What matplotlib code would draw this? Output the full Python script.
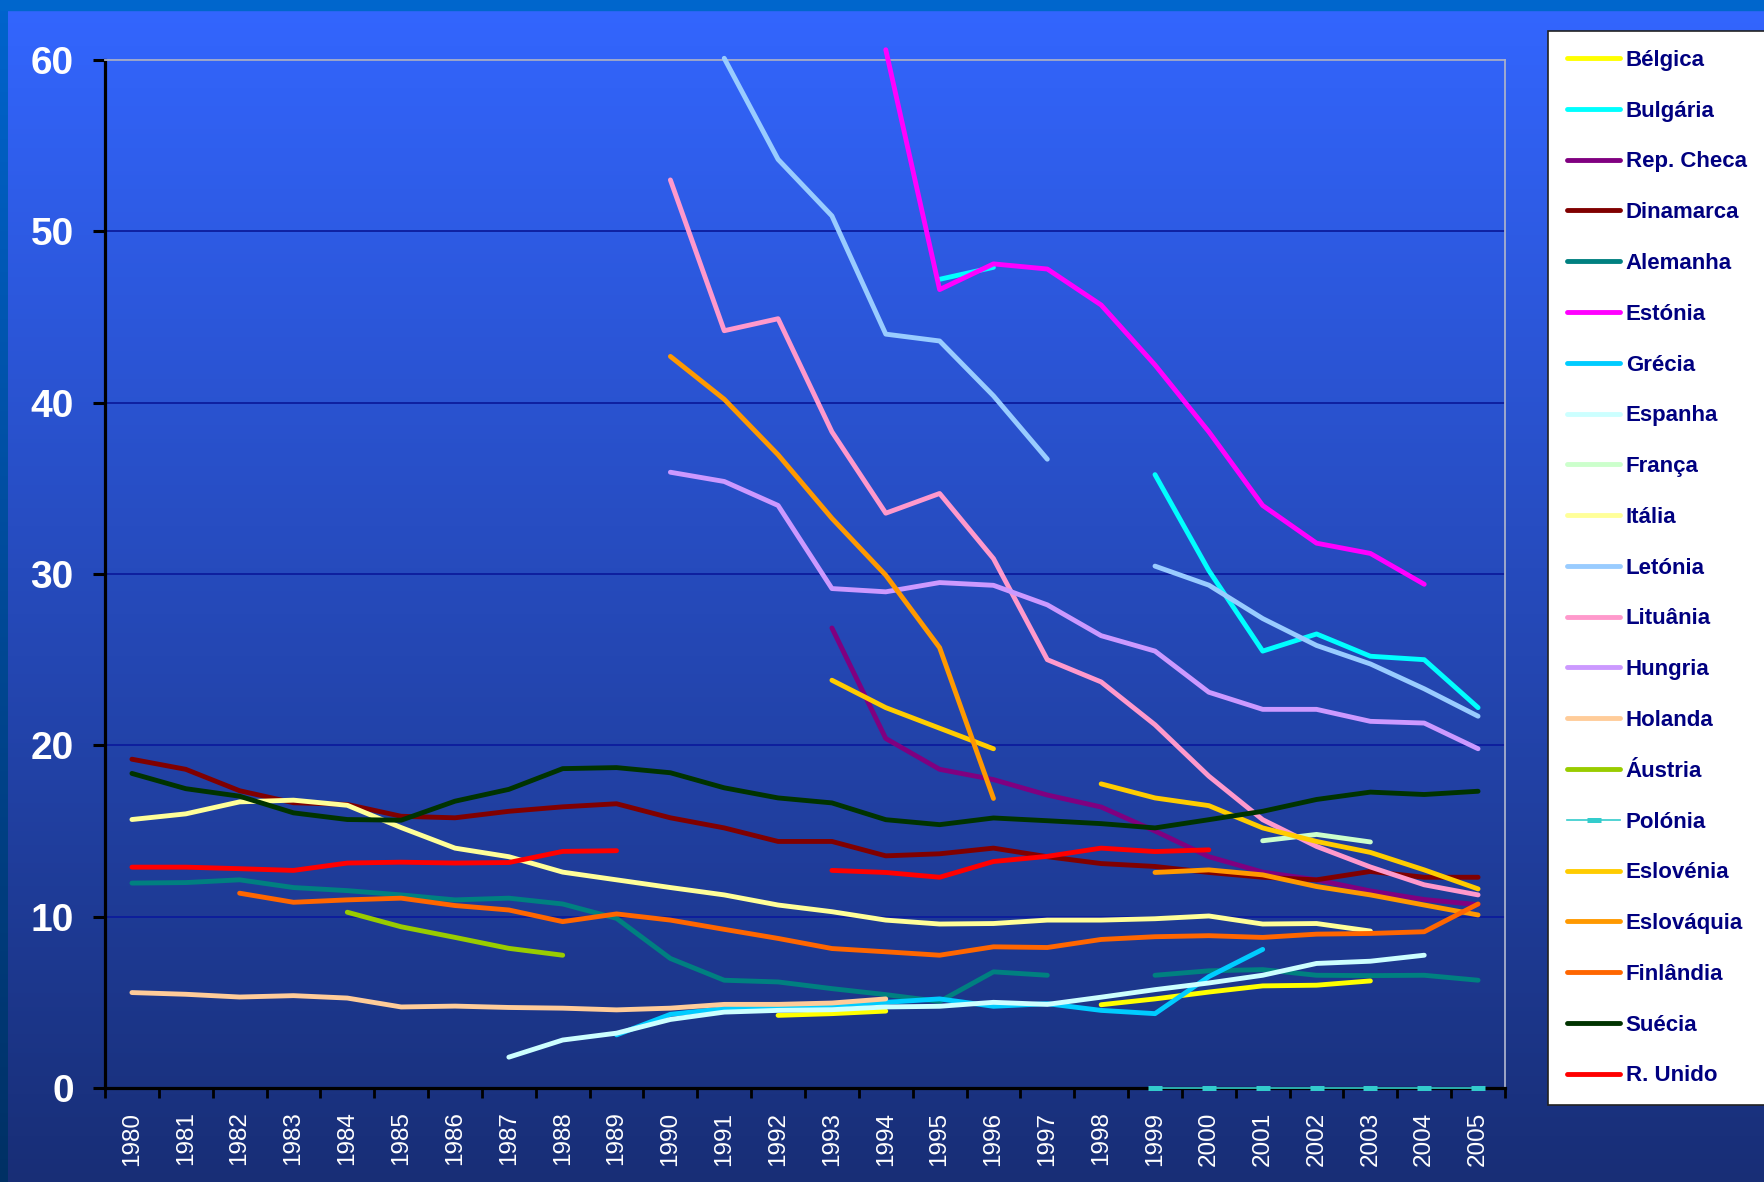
import numpy as np
import matplotlib
matplotlib.use('Agg')
import matplotlib.pyplot as plt
from matplotlib.patches import Rectangle

nan = np.nan

years = [str(y) for y in range(1980, 2006)]

# values, one per year 1980..2005 (nan = no data)
belgica    = [nan]*12 + [4.24, 4.34, 4.49, nan, nan, nan, 4.86, 5.2, 5.6, 5.96, 6.0, 6.25, nan, nan]
bulgaria   = [nan]*15 + [47.2, 47.9, nan, nan, 35.8, 30.2, 25.5, 26.5, 25.2, 25.0, 22.2]
rep_checa  = [nan]*13 + [26.85, 20.4, 18.6, 18.0, 17.1, 16.4, 15.0, 13.5, 12.6, 12.15, 11.5, 11.0, 10.7]
dinamarca  = [19.19, 18.6, 17.35, 16.65, 16.55, 15.86, 15.77, 16.15, 16.41, 16.59, 15.77, 15.18, 14.39,
              14.39, 13.55, 13.67, 14.0, 13.5, 13.1, 12.93, 12.58, 12.3, 12.15, 12.64, 12.3, 12.3]
alemanha   = [11.96, 11.99, 12.15, 11.7, 11.52, 11.27, 10.98, 11.08, 10.74, 9.9, 7.56, 6.29, 6.19,
              5.8, 5.45, 5.05, 6.78, 6.58, nan, 6.58, 6.84, 6.91, 6.58, 6.56, 6.58, 6.29]
estonia    = [nan]*14 + [60.6, 46.6, 48.1, 47.8, 45.7, 42.2, 38.3, 34.0, 31.8, 31.2, 29.4, nan]
grecia     = [nan]*9 + [3.1, 4.3, 4.63, 4.69, 4.82, 5.0, 5.2, 4.77, 4.92, 4.53, 4.34, 6.5, 8.09, nan, nan, nan, nan]
espanha    = [nan]*7 + [1.8, 2.8, 3.2, 4.0, 4.43, 4.53, 4.57, 4.73, 4.77, 5.0, 4.88, 5.3, 5.74, 6.13,
                        6.58, 7.27, 7.4, 7.75, nan]
franca     = [nan]*21 + [14.43, 14.8, 14.36, nan, nan]
italia     = [15.67, 16.0, 16.7, 16.8, 16.5, 15.2, 14.0, 13.5, 12.6, 12.15, 11.7, 11.27, 10.68, 10.29,
              9.8, 9.57, 9.6, 9.8, 9.8, 9.88, 10.04, 9.57, 9.6, 9.16, nan, nan]
letonia    = [nan]*11 + [60.1, 54.2, 50.9, 44.0, 43.6, 40.4, 36.7, nan, 30.46, 29.35, 27.4, 25.83, 24.75, 23.3, 21.7]
lituania   = [nan]*10 + [53.0, 44.2, 44.9, 38.3, 33.55, 34.7, 30.9, 25.0, 23.7, 21.2, 18.2, 15.66, 14.1,
                         12.9, 11.86, 11.27]
hungria    = [nan]*10 + [35.94, 35.4, 34.0, 29.15, 28.96, 29.5, 29.34, 28.2, 26.4, 25.5, 23.1, 22.1, 22.1,
                         21.4, 21.3, 19.8]
holanda    = [5.57, 5.47, 5.31, 5.39, 5.25, 4.73, 4.78, 4.7, 4.66, 4.56, 4.66, 4.88, 4.88, 4.96, 5.2] + [nan]*11
austria    = [nan]*4 + [10.26, 9.41, 8.79, 8.15, 7.75] + [nan]*17
polonia    = [nan]*19 + [0, 0, 0, 0, 0, 0, 0]
eslovenia  = [nan]*13 + [23.8, 22.2, 21.0, 19.8, nan, 17.75, 16.93, 16.48, 15.18, 14.39, 13.75, 12.73, 11.62]
eslovaquia = [nan]*10 + [42.7, 40.2, 36.96, 33.25, 29.93, 25.7, 16.9, nan, nan, 12.58, 12.73, 12.44,
                         11.76, 11.27, 10.68, 10.1]
finlandia  = [nan]*2 + [11.37, 10.84, 10.98, 11.08, 10.65, 10.39, 9.71, 10.16, 9.8, 9.26, 8.73, 8.14,
                        7.95, 7.75, 8.24, 8.2, 8.67, 8.83, 8.89, 8.79, 8.98, 9.02, 9.12, 10.74]
suecia     = [18.36, 17.47, 17.03, 16.06, 15.67, 15.63, 16.74, 17.43, 18.64, 18.7, 18.4, 17.52, 16.93,
              16.64, 15.66, 15.37, 15.76, 15.6, 15.43, 15.18, 15.66, 16.15, 16.84, 17.27, 17.13, 17.32]
r_unido    = [12.89, 12.89, 12.8, 12.7, 13.13, 13.18, 13.13, 13.16, 13.81, 13.85, nan, nan, nan, 12.7,
              12.58, 12.3, 13.22, 13.52, 14.0, 13.8, 13.9] + [nan]*5

names = ['Bélgica', 'Bulgária', 'Rep. Checa', 'Dinamarca', 'Alemanha', 'Estónia', 'Grécia', 'Espanha',
         'França', 'Itália', 'Letónia', 'Lituânia', 'Hungria', 'Holanda', 'Áustria', 'Polónia',
         'Eslovénia', 'Eslováquia', 'Finlândia', 'Suécia', 'R. Unido']
series = [belgica, bulgaria, rep_checa, dinamarca, alemanha, estonia, grecia, espanha, franca, italia,
          letonia, lituania, hungria, holanda, austria, polonia, eslovenia, eslovaquia, finlandia,
          suecia, r_unido]
colors = ['#FFFF00', '#00FFFF', '#800080', '#800000', '#008080', '#FF00FF', '#00CCFF', '#CCFFFF',
          '#CCFFCC', '#FFFF99', '#99CCFF', '#FF99CC', '#CC99FF', '#FFCC99', '#99CC00', '#33CCCC',
          '#FFCC00', '#FF9900', '#FF6600', '#003300', '#FF0000']

W, H = 1764, 1182
fig = plt.figure(figsize=(W/100, H/100), dpi=100)

# background gradient + template strips
bg = fig.add_axes([0, 0, 1, 1], zorder=-10)
top_c = np.array([51, 102, 255]) / 255
bot_c = np.array([24, 46, 118]) / 255
t = np.linspace(0, 1, 256)[:, None, None]
bg.imshow(top_c*(1-t) + bot_c*t, aspect='auto', extent=[0, 1, 0, 1])
bg.axis('off')
strip = fig.add_axes([0, 0, 8/W, 1], zorder=-9)
s1 = np.array([0, 100, 205]) / 255
s2 = np.array([0, 48, 100]) / 255
strip.imshow(s1*(1-t) + s2*t, aspect='auto', extent=[0, 1, 0, 1])
strip.axis('off')
fig.patches.append(Rectangle((0, 1-10/H), 1, 10/H, transform=fig.transFigure, color='#0066CC', zorder=-8))

ax = fig.add_axes([105/W, 1-1088/H, 1400/W, 1028/H])
ax.set_facecolor('none')
x = np.arange(len(years))

handles = []
for name, vals, c in zip(names, series, colors):
    if name == 'Polónia':
        ln, = ax.plot(x, vals, color=c, lw=1.2, marker='_', ms=9.5, mew=3.6, clip_on=False, zorder=5)
    else:
        ln, = ax.plot(x, vals, color=c, lw=3.5, solid_capstyle='round', solid_joinstyle='round',
                      clip_on=False, zorder=3)
    handles.append(ln)

ax.set_xlim(-0.5, 25.5)
ax.set_ylim(0, 60)
ax.set_yticks(range(0, 61, 10))
ax.set_xticks(x)
ax.set_xticklabels(years, rotation=90, color='white', fontsize=17.5, family='Liberation Sans')
ax.set_xticks(np.arange(-0.5, 26, 1), minor=True)
ax.tick_params(axis='x', which='major', length=0, pad=17)
ax.tick_params(axis='x', which='minor', length=7, width=2, color='black', direction='out')
ax.tick_params(axis='y', length=8.5, width=2.2, color='black', direction='out', pad=14)
for lab in ax.get_yticklabels():
    lab.set_color('white')
    lab.set_fontsize(28)
    lab.set_fontweight('bold')
    lab.set_family(['Liberation Sans Narrow', 'Liberation Sans'])

ax.yaxis.grid(True, color='#0C1C9C', lw=1.3, zorder=1)
ax.set_axisbelow(True)
for side in ['left', 'bottom']:
    ax.spines[side].set_color('black')
    ax.spines[side].set_linewidth(2.3)
for side in ['top', 'right']:
    ax.spines[side].set_color('#A8B0CC')
    ax.spines[side].set_linewidth(1.3)

# legend runs off the right edge like the original
leg_top = 1 - 31/H
leg_h = (1100 - 31)/H
leg = fig.legend(handles, names, loc='upper left', mode='expand',
                 bbox_to_anchor=(1548/W, leg_top - leg_h, 240/W, leg_h), borderaxespad=0,
                 frameon=True, fancybox=False, facecolor='white', edgecolor='#222222',
                 framealpha=1, borderpad=0.85, labelspacing=1.34, handlelength=2.4,
                 handletextpad=0.25, numpoints=1,
                 prop={'family': 'Liberation Sans', 'weight': 'bold', 'size': 16})
leg.get_frame().set_linewidth(1.2)
for txt in leg.get_texts():
    txt.set_color('#000080')

fig.savefig('out.png', dpi=100)
